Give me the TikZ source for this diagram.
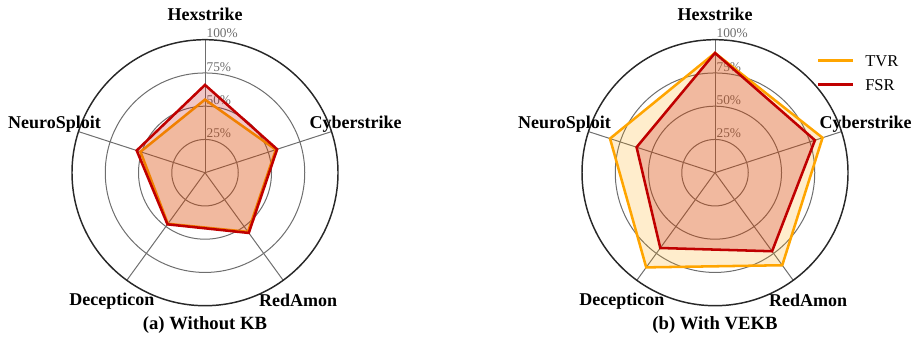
\documentclass[tikz,border=0pt]{standalone}
\usepackage{fontspec}
\setmainfont{Liberation Serif}
\usetikzlibrary{positioning}

\definecolor{tvrorange}{RGB}{255,165,0}
\definecolor{fsrred}{RGB}{192,0,0}
\definecolor{gridgray}{RGB}{110,110,110}
\definecolor{rimgray}{RGB}{40,40,40}

\tikzset{
  ring/.style={draw=gridgray, line width=0.75pt},
  spoke/.style={draw=gridgray, line width=0.75pt},
  rim/.style={draw=rimgray, line width=1.1pt},
  ticklabel/.style={text=gridgray, font=\fontsize{10}{12}\selectfont, anchor=south west, inner sep=1pt},
  axislabel/.style={font=\fontsize{13.5}{16}\selectfont\bfseries, inner sep=0pt},
  caption/.style={font=\fontsize{14}{17}\selectfont\bfseries, inner sep=0pt},
  legendtext/.style={font=\fontsize{12.4}{15}\selectfont, inner sep=0pt, anchor=west},
  tvr/.style={draw=tvrorange, line width=1.9pt, fill=tvrorange, fill opacity=0.2},
  fsr/.style={draw=fsrred, line width=1.9pt, fill=fsrred, fill opacity=0.22},
}

\begin{document}
\begin{tikzpicture}[x=0.75pt,y=0.75pt]
\useasboundingbox (0,0) rectangle (912,338);

% Grid, axes and labels of both charts
\foreach \cx/\id/\cap in {205/a/{(a) Without KB},715/b/{(b) With VEKB}}{
\begin{scope}[shift={(\cx,165.3)},scale=1.33]
  \foreach \r in {25,50,75}{\draw[ring] (0,0) circle (\r);}
  \foreach \ang in {90,18,-54,-126,162}{\draw[spoke] (0,0) -- (\ang:100);}
  \draw[rim] (0,0) circle (100);
  \foreach \r in {25,50,75,100}{\node[ticklabel] (tick\r-\id) at (0,\r) {\r\%};}
  % Text Node
  \node[axislabel] (hex-\id) at (90:119) {Hexstrike};
  \node[axislabel] (cyber-\id) at (18:119) {Cyberstrike};
  \node[axislabel] (red-\id) at (-54:119) {RedAmon};
  \node[axislabel] (decep-\id) at (-126:119) {Decepticon};
  \node[axislabel] (neuro-\id) at (162:119) {NeuroSploit};
  \node[caption] (cap-\id) at (0,-114.5) {\cap};
\end{scope}
}

% Chart (a)
\begin{scope}[shift={(205,165.3)},scale=1.33]
  \draw[tvr] (90:55) -- (18:56) -- (-54:55) -- (-126:47.5) -- (162:51) -- cycle;
  \draw[fsr] (90:66) -- (18:57) -- (-54:56) -- (-126:48) -- (162:54) -- cycle;
\end{scope}

% Chart (b)
\begin{scope}[shift={(715,165.3)},scale=1.33]
  \draw[tvr] (90:90) -- (18:85) -- (-54:86) -- (-126:88) -- (162:83) -- cycle;
  \draw[fsr] (90:90) -- (18:79) -- (-54:73) -- (-126:70) -- (162:62) -- cycle;
\end{scope}

% Legend
\coordinate (tvrA) at (818,277);
\coordinate (tvrB) at (853,277);
\coordinate (fsrA) at (818,253);
\coordinate (fsrB) at (853,253);
\draw[draw=tvrorange, line width=2.25pt] (tvrA) -- (tvrB);
\draw[draw=fsrred, line width=2.25pt] (fsrA) -- (fsrB);
\node[legendtext, right=12 of tvrB] (tvrtext) {TVR};
\node[legendtext, right=12 of fsrB] (fsrtext) {FSR};

\end{tikzpicture}
\end{document}
